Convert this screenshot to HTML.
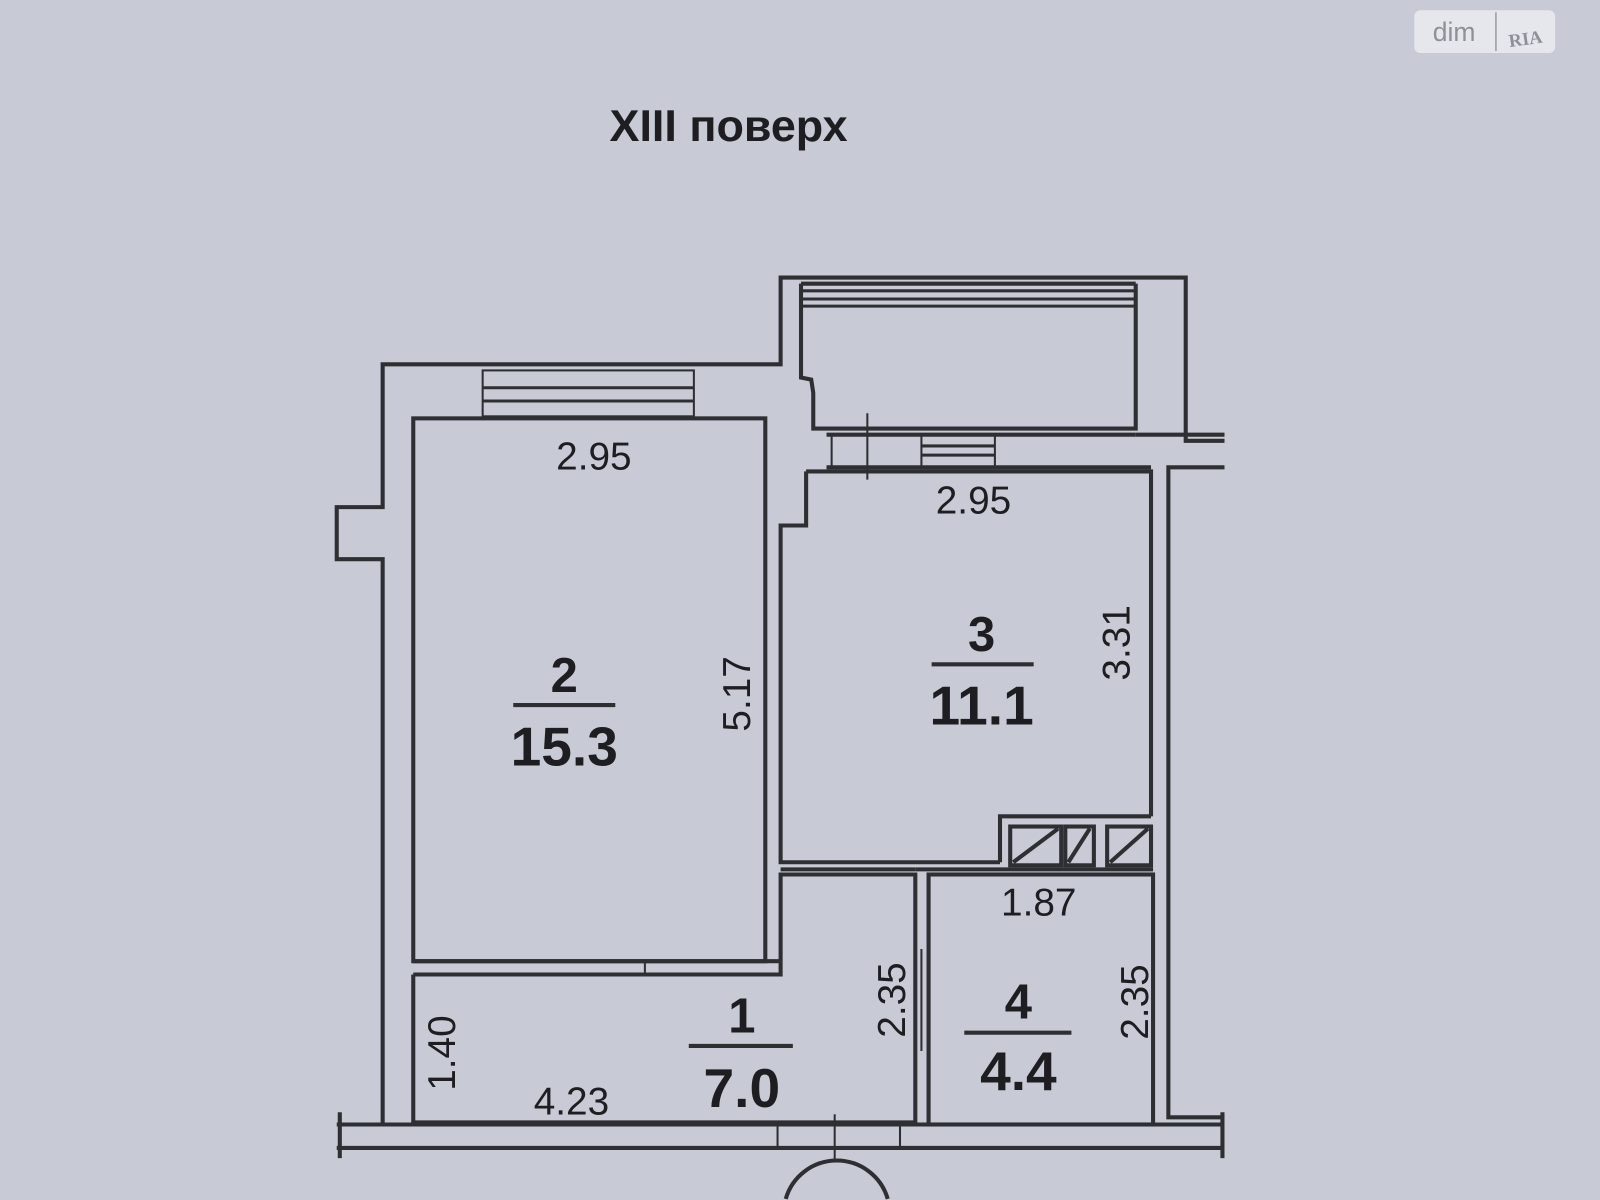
<!DOCTYPE html>
<html><head><meta charset="utf-8"><style>
html,body{margin:0;padding:0;background:#c8cbd5;width:1600px;height:1200px;overflow:hidden;}
svg{display:block;overflow:hidden;}
text{font-family:"Liberation Sans",sans-serif;fill:#1e1e22;}
.n{font-weight:600;}
</style></head><body>
<svg width="1600" height="1200" viewBox="0 0 1568 1176" preserveAspectRatio="none" xmlns="http://www.w3.org/2000/svg">
<rect width="1568" height="1176" fill="#c8cbd5"/>
<g fill="none" stroke="#2e2f33" stroke-width="4">
<polyline points="375,1102 375,548 330,548 330,497 375,497 375,357 765,357 765,272 1162,272 1162,432 1200,432"/>
<polyline points="1200,458 1145,458 1145,1095 1200,1095"/>
<rect x="405" y="410" width="345" height="532"/>
<line x1="405" y1="942" x2="765" y2="942"/>
<polyline points="790,462 1128,462 1128,800"/>
<polyline points="790,462 790,515 765,515 765,845 980,845"/>
<polyline points="785,278 785,370 795,372 797,385 797,420 1113,420 1113,278"/>
<line x1="785" y1="278" x2="1113" y2="278"/>
<line x1="785" y1="300" x2="1113" y2="300" stroke-width="3"/>
<line x1="785" y1="285" x2="1113" y2="285" stroke-width="3"/>
<line x1="785" y1="293" x2="1113" y2="293" stroke-width="3"/>
<line x1="810" y1="426" x2="1113" y2="426"/>
<line x1="1113" y1="426" x2="1200" y2="426" />
<line x1="810" y1="458" x2="1128" y2="458"/>
<line x1="815" y1="426" x2="815" y2="458" stroke-width="2"/>
<line x1="850" y1="405" x2="850" y2="470" stroke-width="2"/>
<rect x="903" y="426" width="72" height="32" stroke-width="2"/>
<line x1="903" y1="437" x2="975" y2="437" stroke-width="3"/>
<line x1="903" y1="446" x2="975" y2="446" stroke-width="3"/>
<rect x="473" y="363" width="207" height="45" stroke-width="2"/>
<line x1="473" y1="380" x2="680" y2="380" stroke-width="3"/>
<line x1="473" y1="393" x2="680" y2="393" stroke-width="3"/>
<polyline points="405,955 765,955 765,857 897,857 897,1100 405,1100 405,955"/>
<line x1="765" y1="852" x2="897" y2="852"/>
<line x1="632" y1="942" x2="632" y2="955" stroke-width="2"/>
<rect x="910" y="857" width="220" height="245"/>
<line x1="897" y1="852" x2="1130" y2="852"/>
<line x1="903" y1="930" x2="903" y2="1030" stroke-width="2"/>
<polyline points="980,845 980,800 1128,800"/>
<rect x="990" y="810" width="50" height="38"/>
<rect x="1044" y="810" width="28" height="38"/>
<rect x="1085" y="810" width="43" height="38"/>
<line x1="993" y1="845" x2="1037" y2="812"/>
<line x1="1047" y1="845" x2="1068" y2="812"/>
<line x1="1088" y1="845" x2="1125" y2="812"/>
<line x1="330" y1="1102" x2="1200" y2="1102"/>
<line x1="330" y1="1125" x2="1200" y2="1125"/>
<line x1="333" y1="1090" x2="333" y2="1135"/>
<line x1="1198" y1="1090" x2="1198" y2="1135"/>
<line x1="762" y1="1102" x2="762" y2="1125" stroke-width="2"/>
<line x1="882" y1="1102" x2="882" y2="1125" stroke-width="2"/>
<line x1="818" y1="1092" x2="818" y2="1138" stroke-width="2"/>
<path d="M770,1175 A52,52 0 0 1 870,1175"/>
<line x1="503" y1="691" x2="603" y2="691" stroke-width="4"/>
<line x1="913" y1="651" x2="1013" y2="651" stroke-width="4"/>
<line x1="675" y1="1025" x2="777" y2="1025" stroke-width="4"/>
<line x1="945" y1="1012" x2="1050" y2="1012" stroke-width="4"/>
</g>
<text x="714" y="138" font-size="44" font-weight="bold" text-anchor="middle">XIII поверх</text>
<g>
<text x="582" y="460" font-size="38" text-anchor="middle">2.95</text>
<text x="954" y="503" font-size="38" text-anchor="middle">2.95</text>
<text class="n" x="553" y="678" font-size="48" text-anchor="middle">2</text>
<text class="n" x="553" y="750" font-size="54" text-anchor="middle">15.3</text>
<text class="n" x="962" y="638" font-size="48" text-anchor="middle">3</text>
<text class="n" x="962" y="710" font-size="54" text-anchor="middle">11.1</text>
<text class="n" x="727" y="1012" font-size="48" text-anchor="middle">1</text>
<text class="n" x="727" y="1085" font-size="54" text-anchor="middle">7.0</text>
<text class="n" x="998" y="998" font-size="48" text-anchor="middle">4</text>
<text class="n" x="998" y="1068" font-size="54" text-anchor="middle">4.4</text>
<text x="1018" y="897" font-size="38" text-anchor="middle">1.87</text>
<text x="560" y="1092" font-size="38" text-anchor="middle">4.23</text>
<text transform="translate(735,680) rotate(-90)" font-size="38" text-anchor="middle">5.17</text>
<text transform="translate(1107,630) rotate(-90)" font-size="38" text-anchor="middle">3.31</text>
<text transform="translate(887,980) rotate(-90)" font-size="38" text-anchor="middle">2.35</text>
<text transform="translate(1125,982) rotate(-90)" font-size="38" text-anchor="middle">2.35</text>
<text transform="translate(446,1032) rotate(-90)" font-size="38" text-anchor="middle">1.40</text>
</g>
<rect x="1386" y="10" width="138" height="42" rx="6" fill="#e6e7ec"/>
<line x1="1466" y1="12" x2="1466" y2="50" stroke="#9a9ca5" stroke-width="1.5"/>
<text x="1425" y="40" font-size="26" text-anchor="middle" style="fill:#8e909a">dim</text>
<text x="1495" y="44" font-size="18" font-weight="bold" text-anchor="middle" style="fill:#8e909a;font-family:'Liberation Serif',serif" transform="rotate(-8 1495 38)">RIA</text>
</svg>
</body></html>
